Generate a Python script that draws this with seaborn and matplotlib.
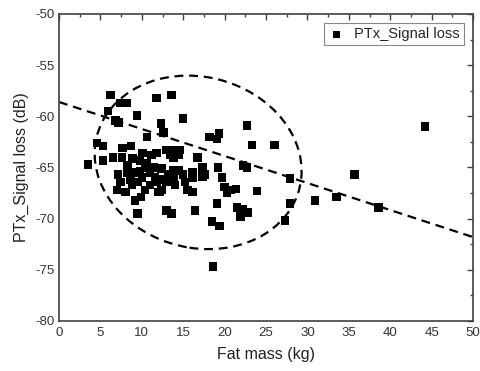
import matplotlib
matplotlib.use('Agg')
import matplotlib.pyplot as plt
from matplotlib.patches import Ellipse
from matplotlib.ticker import MultipleLocator
import seaborn as sns
import pandas as pd

# ── data ──
fat_mass = [3.5, 4.6, 5.3, 6.2, 7.4, 8.2, 5.9, 9.4, 6.8, 7.2,
            11.8, 13.6, 15.0, 12.3, 12.6, 10.6, 18.2, 19.3, 19.1, 5.3,
            6.5, 7.6, 7.7, 8.7, 10.1, 11.2, 11.8, 13.0, 13.8, 14.6,
            13.4, 14.4, 16.7, 8.9, 7.1, 7.4, 8.2, 8.6, 9.2, 9.8,
            9.5, 8.8, 10.0, 11.0, 11.4, 10.6, 9.8, 11.8, 7.0, 8.0,
            9.2, 9.9, 9.5, 12.0, 12.4, 12.4, 12.4, 13.8, 13.8, 14.4,
            13.0, 13.8, 14.0, 15.0, 15.2, 16.1, 16.1, 17.3, 17.6, 17.3,
            15.5, 16.1, 19.2, 19.7, 20.0, 20.7, 21.4, 20.3, 19.1, 16.4,
            13.0, 13.6, 18.5, 19.4, 21.5, 18.6, 22.7, 23.3, 26.0, 22.2,
            22.7, 27.9, 35.7, 33.5, 38.6, 44.2, 30.9, 27.9, 27.3, 23.9,
            21.9, 22.8, 22.2, 12.2, 10.4, 11.6, 8.3, 13.2, 11.0, 10.4]
signal_loss = [-64.7, -62.6, -62.9, -57.9, -58.7, -58.7, -59.5, -59.9, -60.4, -60.6,
               -58.2, -57.9, -60.2, -60.7, -61.6, -62.0, -62.0, -61.7, -62.2, -64.3,
               -64.0, -64.0, -63.1, -62.9, -63.6, -63.8, -63.6, -63.3, -63.3, -63.3,
               -63.8, -63.8, -64.0, -64.1, -65.7, -66.4, -65.5, -66.2, -65.5, -65.4,
               -66.4, -66.7, -66.0, -65.5, -65.0, -64.6, -64.3, -66.4, -67.2, -67.4,
               -68.2, -67.9, -69.5, -67.4, -65.1, -66.2, -67.2, -64.0, -65.3, -65.3,
               -66.4, -66.2, -66.7, -65.7, -66.4, -65.5, -66.0, -65.0, -65.7, -65.9,
               -67.2, -67.4, -65.0, -66.0, -66.9, -67.2, -67.1, -67.5, -68.5, -69.2,
               -69.2, -69.5, -70.3, -70.7, -68.9, -74.7, -60.9, -62.8, -62.8, -64.8,
               -65.0, -66.1, -65.7, -67.9, -68.9, -61.0, -68.2, -68.5, -70.2, -67.3,
               -69.8, -69.4, -69.1, -67.4, -65.0, -66.0, -64.8, -65.7, -66.7, -67.2]

# dashed trend line end points
trend_x = [0, 50]
trend_y = [-58.6, -71.8]

# dashed ellipse around the main cluster
ell_center = (16.8, -64.5)
ell_width = 25.1
ell_height = 16.8
ell_angle = -7.1

df = pd.DataFrame({'Fat mass (kg)': fat_mass, 'PTx_Signal loss (dB)': signal_loss})

sns.set_theme(style='white')
plt.rcParams['font.family'] = ['Liberation Sans', 'DejaVu Sans']
plt.rcParams['axes.unicode_minus'] = False

fig = plt.figure(figsize=(4.81, 3.71), dpi=100)
ax = fig.add_axes([0.1227, 0.1348, 0.8607, 0.8275])

sns.scatterplot(data=df, x='Fat mass (kg)', y='PTx_Signal loss (dB)', ax=ax,
                marker='s', color='black', edgecolor='none', s=38,
                label='PTx_Signal loss', zorder=3)

ax.plot(trend_x, trend_y, color='black', lw=1.6, linestyle=(0, (4, 2.6)), zorder=2)
ax.add_patch(Ellipse(ell_center, ell_width, ell_height, angle=ell_angle,
                     fill=False, edgecolor='black', lw=1.6,
                     linestyle=(0, (4, 2.6)), zorder=2))

ax.set_xlim(0, 50)
ax.set_ylim(-80, -50)
ax.xaxis.set_major_locator(MultipleLocator(5))
ax.xaxis.set_minor_locator(MultipleLocator(2.5))
ax.yaxis.set_major_locator(MultipleLocator(5))
ax.yaxis.set_minor_locator(MultipleLocator(2.5))

ax.tick_params(which='both', direction='in', top=True, right=True,
               color='#404040', labelsize=9.5, labelcolor='#333333')
ax.tick_params(which='major', length=4.5, width=1)
ax.tick_params(which='minor', length=2.5, width=1)
ax.tick_params(axis='x', pad=4)
for sp in ax.spines.values():
    sp.set_visible(True)
    sp.set_color('#404040')
    sp.set_linewidth(1.2)

ax.set_xlabel('Fat mass (kg)', fontsize=11.5, color='#222222', labelpad=6)
ax.set_ylabel('PTx_Signal loss (dB)', fontsize=11.5, color='#222222', labelpad=4)

leg = ax.legend(loc='upper right', fontsize=10.5, frameon=True, fancybox=False,
                borderpad=0.3, handletextpad=0.6, handlelength=1.2,
                borderaxespad=0.6, framealpha=1, markerscale=0.85)
leg.get_frame().set_edgecolor('#888888')
leg.get_frame().set_linewidth(0.8)

fig.savefig('out.png', dpi=100)
